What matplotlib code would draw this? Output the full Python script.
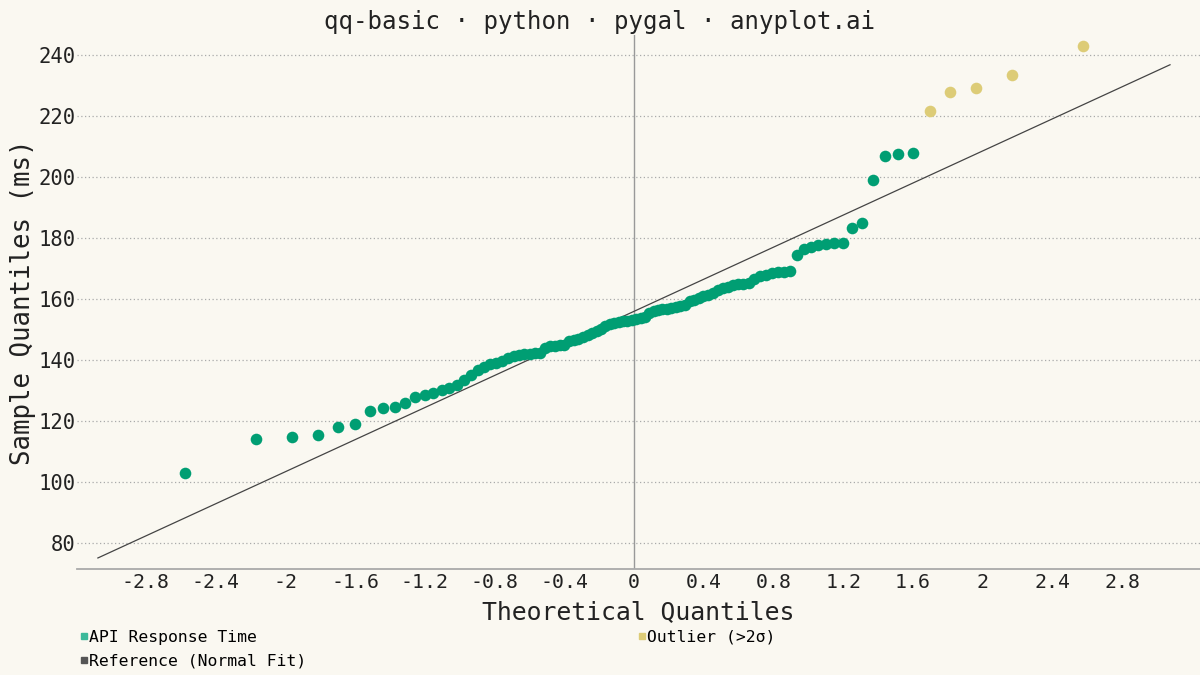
import matplotlib
matplotlib.use("Agg")
import matplotlib.pyplot as plt
from matplotlib.lines import Line2D
from statistics import NormalDist

# sorted API response times (ms)
response_ms = [
    102.9, 114.1, 114.7, 115.6, 118.1, 119.0, 123.3, 124.3, 124.6, 126.1,
    128.0, 128.6, 129.3, 130.1, 130.9, 131.8, 133.4, 135.0, 136.8, 137.8,
    138.6, 139.2, 139.8, 140.6, 141.2, 141.7, 141.9, 142.1, 142.2, 142.3,
    144.0, 144.6, 144.8, 144.9, 145.1, 146.2, 146.5, 146.9, 147.6, 148.2,
    148.8, 149.6, 150.3, 151.1, 151.8, 152.3, 152.6, 152.8, 153.0, 153.2,
    153.5, 153.9, 154.3, 155.3, 156.1, 156.4, 156.7, 156.9, 157.2, 157.4,
    157.7, 158.0, 159.3, 159.8, 160.4, 160.9, 161.5, 162.1, 163.0, 163.5,
    164.0, 164.5, 164.9, 165.1, 165.2, 166.6, 167.5, 168.0, 168.5, 168.8,
    169.0, 169.2, 174.4, 176.3, 177.2, 177.7, 178.0, 178.3, 178.5, 183.4,
    185.0, 199.2, 206.9, 207.6, 207.8, 221.7, 228.1, 229.3, 233.4, 243.0,
]

# reference line (normal fit)
ref_mean = 156.0
ref_sd = 26.3
ref_x = [-3.075, 3.075]

x_ticks = [-2.8, -2.4, -2.0, -1.6, -1.2, -0.8, -0.4, 0.0, 0.4, 0.8, 1.2, 1.6, 2.0, 2.4, 2.8]
y_ticks = [80, 100, 120, 140, 160, 180, 200, 220, 240]

n = len(response_ms)
nd = NormalDist()
theo = [nd.inv_cdf((i + 0.5) / n) for i in range(n)]
limit = ref_mean + 2 * ref_sd
normal_pts = [(t, v) for t, v in zip(theo, response_ms) if v <= limit]
outlier_pts = [(t, v) for t, v in zip(theo, response_ms) if v > limit]

bg = "#FAF8F1"
green = "#009E73"
sand = "#DDCC77"
mono = "DejaVu Sans Mono"

fig = plt.figure(figsize=(12, 6.75), dpi=100, facecolor=bg)
ax = fig.add_axes([0.064, 0.157, 0.936, 0.791], facecolor=bg)

ax.plot(ref_x, [ref_mean + ref_sd * x for x in ref_x], color="#444444", lw=0.9, zorder=2)
ax.scatter([p[0] for p in normal_pts], [p[1] for p in normal_pts], s=70, color=green,
           linewidths=0, zorder=3)
ax.scatter([p[0] for p in outlier_pts], [p[1] for p in outlier_pts], s=70, color=sand,
           linewidths=0, zorder=3)

ax.set_xlim(-3.196, 3.247)
ax.set_ylim(71.5, 246.6)
ax.set_xticks(x_ticks)
ax.set_xticklabels([f"{t:g}" for t in x_ticks], fontfamily=mono, fontsize=14.3)
ax.set_yticks(y_ticks)
ax.set_yticklabels([str(t) for t in y_ticks], fontfamily=mono, fontsize=14.8)
ax.tick_params(length=0, pad=3, colors="#222222")
ax.tick_params(axis="y", pad=1)

ax.grid(axis="y", color="#AAAAAA", lw=0.9, linestyle=(0, (1, 2)))
ax.axvline(0, color="#999999", lw=1.0, zorder=1)
for side in ["left", "right", "top"]:
    ax.spines[side].set_visible(False)
ax.spines["bottom"].set_color("#AAAAAA")
ax.spines["bottom"].set_linewidth(1.3)

ax.set_xlabel("Theoretical Quantiles", fontfamily=mono, fontsize=17.8, color="#222222", labelpad=6)
ax.set_ylabel("Sample Quantiles (ms)", fontfamily=mono, fontsize=18.5, color="#222222", labelpad=2)
fig.text(0.5, 0.968, "qq-basic · python · pygal · anyplot.ai", ha="center", va="center",
         fontfamily=mono, fontsize=17.4, color="#222222")


def sq(color):
    return Line2D([], [], marker="s", ls="", color=color, markersize=4.5)


leg_kw = dict(loc="upper left", frameon=False, handletextpad=0.0, handlelength=0.7,
              labelspacing=0.55, borderpad=0, borderaxespad=0,
              prop={"family": mono, "size": 11.8})
fig.legend([sq("#3CB99A"), sq("#555555")], ["API Response Time", "Reference (Normal Fit)"],
           bbox_to_anchor=(0.065, 0.067), **leg_kw)
fig.legend([sq(sand)], ["Outlier (>2σ)"], bbox_to_anchor=(0.530, 0.067), **leg_kw)

fig.savefig("out.png", dpi=100, facecolor=bg)
